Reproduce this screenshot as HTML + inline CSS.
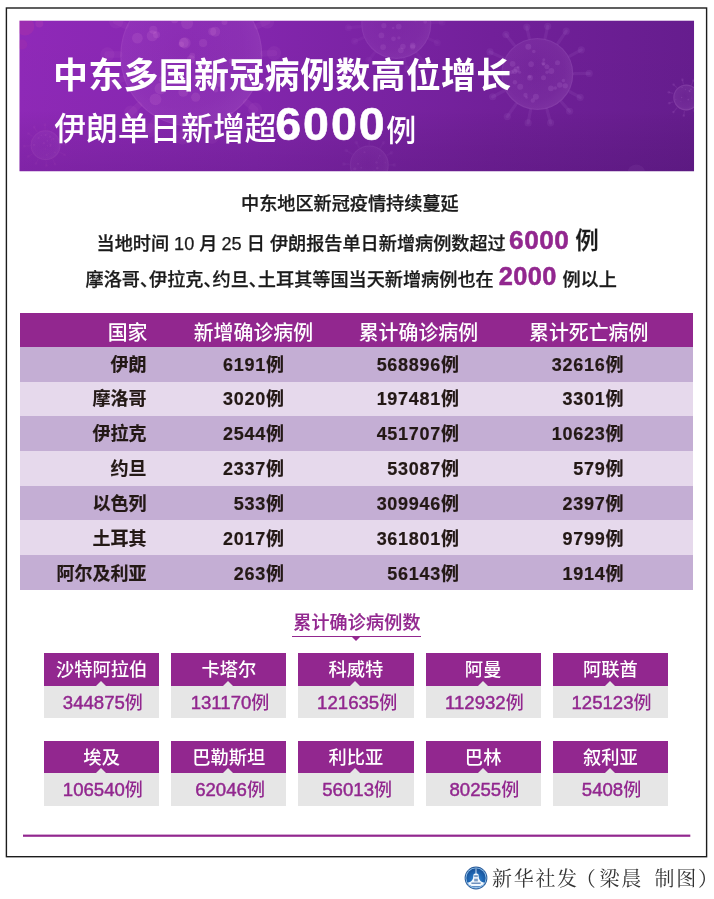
<!DOCTYPE html>
<html lang="zh-CN">
<head>
<meta charset="utf-8">
<title>中东多国新冠病例数高位增长</title>
<style>
html,body{margin:0;padding:0;background:#fff;}
body{width:714px;height:899px;position:relative;overflow:hidden;
  font-family:"Liberation Sans","Noto Sans CJK SC",sans-serif;color:#231815;}
.abs{position:absolute;}
#frame{left:0;top:0;}
#banner{left:19px;top:20px;width:677px;height:153px;overflow:hidden;}
#banner svg{position:absolute;left:0;top:0;}
.t1{left:53px;top:51px;font-size:35px;letter-spacing:0.27px;line-height:50px;font-weight:700;color:#fff;white-space:nowrap;}
.t2{left:54.2px;top:94px;line-height:60px;color:#fff;white-space:nowrap;font-size:31.75px;font-weight:500;}
.t2 b{font-size:46.5px;font-weight:700;letter-spacing:2px;margin-left:-1.2px;margin-right:1.6px;position:relative;top:0px;-webkit-text-stroke:0.6px #fff;}
.t2 i{font-style:normal;font-size:30px;font-weight:500;margin-left:-2px;position:relative;top:0.6px;}
.p{white-space:nowrap;font-size:18.15px;font-weight:500;line-height:30px;color:#1a1a1a;-webkit-text-stroke:0.25px #1a1a1a;}
.p b{color:#92278f;font-weight:700;font-size:26.2px;letter-spacing:0.5px;-webkit-text-stroke:0.5px #92278f;}
.hl{font-feature-settings:"halt";}
/* table */
.row{left:20px;width:672.5px;height:34.8px;}
.hd{background:#92278f;color:#fff;}
.dk{background:#c4aed4;}
.lt{background:#e6d9ec;}
.c{position:absolute;top:var(--o,0px);height:34.6px;line-height:34.6px;white-space:nowrap;text-align:right;font-size:18px;font-weight:700;-webkit-text-stroke:0.2px #231815;}
.hd .c{font-size:19.9px;font-weight:500;text-align:center;top:3px;-webkit-text-stroke:0;}
.c1{right:546px;}
.c2{right:407.9px;letter-spacing:0.7px;}
.c3{right:232.9px;letter-spacing:0.7px;}
.c4{right:68.4px;letter-spacing:0.7px;}

.h1{left:87.6px;width:40px;} .h2{left:173.4px;width:120px;} .h3{left:338.4px;width:120px;} .h4{left:508.7px;width:120px;}
.sub{-webkit-text-stroke:0.2px #92278f;left:293.2px;top:608px;font-size:18px;letter-spacing:0.2px;line-height:30px;font-weight:500;color:#92278f;white-space:nowrap;}
.subline{left:292px;top:636px;width:129px;height:1px;background:#92278f;}
.subtri{left:352px;top:636.5px;width:0;height:0;border-left:4.3px solid transparent;border-right:4.3px solid transparent;border-top:4px solid #92278f;}
.card{width:115.3px;height:65px;background:#e6e6e6;}
.cn{position:absolute;left:0;top:0;width:100%;height:32.7px;line-height:34.7px;background:#92278f;color:#fff;font-size:18.3px;font-weight:500;text-align:center;white-space:nowrap;}
.cn:after{content:"";position:absolute;left:50%;bottom:0;margin-left:-5.5px;border-left:5.5px solid transparent;border-right:5.5px solid transparent;border-bottom:5.5px solid #e6e6e6;}
.cv{position:absolute;left:1.2px;top:32.7px;width:100%;height:32.3px;line-height:34.7px;color:#92278f;font-size:18px;font-weight:500;text-align:center;white-space:nowrap;}
.n{font-size:18.6px;-webkit-text-stroke:0.45px #92278f;}
.botline{left:0;top:0;}
.logo{left:462.6px;top:865px;width:26px;height:26px;}
.foot{left:492px;top:864px;font-family:"Liberation Serif","Noto Serif CJK SC",serif;font-size:20px;line-height:30px;letter-spacing:1.7px;word-spacing:5px;color:#333;white-space:nowrap;}
</style>
</head>
<body>
<svg id="frame" class="abs" width="714" height="899" viewBox="0 0 714 899"><rect x="6.4" y="8" width="700.2" height="848.7" fill="none" stroke="#1c1c1c" stroke-width="1.4"/></svg>

<div id="banner" class="abs">
<svg width="677" height="153" viewBox="0 0 677 153">
<defs>
<linearGradient id="bg" x1="0" y1="0" x2="1" y2="0">
<stop offset="0" stop-color="#8f29b8"/>
<stop offset="0.35" stop-color="#8326ad"/>
<stop offset="0.7" stop-color="#72209a"/>
<stop offset="1" stop-color="#661d8e"/>
</linearGradient>
<linearGradient id="bgv" x1="0" y1="0" x2="0" y2="1">
<stop offset="0" stop-color="#000" stop-opacity="0"/>
<stop offset="0.6" stop-color="#000" stop-opacity="0.01"/>
<stop offset="1" stop-color="#1a0030" stop-opacity="0.13"/>
</linearGradient>
<radialGradient id="vb" cx="0.45" cy="0.45" r="0.6">
<stop offset="0" stop-color="#f0b8ff" stop-opacity="0.05"/>
<stop offset="0.7" stop-color="#f0b8ff" stop-opacity="0.09"/>
<stop offset="1" stop-color="#f6c8ff" stop-opacity="0.15"/>
</radialGradient>
<clipPath id="bc"><rect x="0" y="0" width="674.8" height="151"/></clipPath>
</defs>
<g transform="translate(0.3 0.45)" clip-path="url(#bc)">
<rect width="675" height="151" fill="url(#bg)"/>
<g transform="translate(172.0 35.0)">
<line x1="72.0" y1="-2.0" x2="82.8" y2="-2.3" stroke="#ffb0f0" stroke-opacity="0.05" stroke-width="6.4" stroke-linecap="round"/>
<circle cx="82.8" cy="-2.3" r="7.1" fill="#ffb0f0" fill-opacity="0.05"/>
<line x1="67.0" y1="26.3" x2="76.8" y2="30.1" stroke="#ffb0f0" stroke-opacity="0.05" stroke-width="6.4" stroke-linecap="round"/>
<circle cx="76.8" cy="30.1" r="7.1" fill="#ffb0f0" fill-opacity="0.05"/>
<line x1="54.9" y1="46.6" x2="63.8" y2="54.2" stroke="#ffb0f0" stroke-opacity="0.05" stroke-width="6.4" stroke-linecap="round"/>
<circle cx="63.8" cy="54.2" r="7.1" fill="#ffb0f0" fill-opacity="0.05"/>
<line x1="40.3" y1="59.7" x2="47.2" y2="69.9" stroke="#ffb0f0" stroke-opacity="0.05" stroke-width="6.4" stroke-linecap="round"/>
<circle cx="47.2" cy="69.9" r="7.1" fill="#ffb0f0" fill-opacity="0.05"/>
<line x1="17.7" y1="69.8" x2="20.7" y2="81.4" stroke="#ffb0f0" stroke-opacity="0.05" stroke-width="6.4" stroke-linecap="round"/>
<circle cx="20.7" cy="81.4" r="7.1" fill="#ffb0f0" fill-opacity="0.05"/>
<line x1="-7.6" y1="71.6" x2="-8.7" y2="82.1" stroke="#ffb0f0" stroke-opacity="0.05" stroke-width="6.4" stroke-linecap="round"/>
<circle cx="-8.7" cy="82.1" r="7.1" fill="#ffb0f0" fill-opacity="0.05"/>
<line x1="-35.2" y1="62.8" x2="-41.9" y2="74.7" stroke="#ffb0f0" stroke-opacity="0.05" stroke-width="6.4" stroke-linecap="round"/>
<circle cx="-41.9" cy="74.7" r="7.1" fill="#ffb0f0" fill-opacity="0.05"/>
<line x1="-52.3" y1="49.5" x2="-60.4" y2="57.2" stroke="#ffb0f0" stroke-opacity="0.05" stroke-width="6.4" stroke-linecap="round"/>
<circle cx="-60.4" cy="57.2" r="7.1" fill="#ffb0f0" fill-opacity="0.05"/>
<line x1="-68.1" y1="23.2" x2="-81.6" y2="27.8" stroke="#ffb0f0" stroke-opacity="0.05" stroke-width="6.4" stroke-linecap="round"/>
<circle cx="-81.6" cy="27.8" r="7.1" fill="#ffb0f0" fill-opacity="0.05"/>
<line x1="-72.0" y1="-0.9" x2="-83.9" y2="-1.0" stroke="#ffb0f0" stroke-opacity="0.05" stroke-width="6.4" stroke-linecap="round"/>
<circle cx="-83.9" cy="-1.0" r="7.1" fill="#ffb0f0" fill-opacity="0.05"/>
<line x1="-65.6" y1="-29.7" x2="-75.1" y2="-34.0" stroke="#ffb0f0" stroke-opacity="0.05" stroke-width="6.4" stroke-linecap="round"/>
<circle cx="-75.1" cy="-34.0" r="7.1" fill="#ffb0f0" fill-opacity="0.05"/>
<line x1="-52.4" y1="-49.4" x2="-60.7" y2="-57.2" stroke="#ffb0f0" stroke-opacity="0.05" stroke-width="6.4" stroke-linecap="round"/>
<circle cx="-60.7" cy="-57.2" r="7.1" fill="#ffb0f0" fill-opacity="0.05"/>
<line x1="-39.5" y1="-60.2" x2="-45.4" y2="-69.1" stroke="#ffb0f0" stroke-opacity="0.05" stroke-width="6.4" stroke-linecap="round"/>
<circle cx="-45.4" cy="-69.1" r="7.1" fill="#ffb0f0" fill-opacity="0.05"/>
<line x1="-14.7" y1="-70.5" x2="-17.4" y2="-83.8" stroke="#ffb0f0" stroke-opacity="0.05" stroke-width="6.4" stroke-linecap="round"/>
<circle cx="-17.4" cy="-83.8" r="7.1" fill="#ffb0f0" fill-opacity="0.05"/>
<line x1="8.9" y1="-71.5" x2="10.4" y2="-84.0" stroke="#ffb0f0" stroke-opacity="0.05" stroke-width="6.4" stroke-linecap="round"/>
<circle cx="10.4" cy="-84.0" r="7.1" fill="#ffb0f0" fill-opacity="0.05"/>
<line x1="37.4" y1="-61.5" x2="43.5" y2="-71.6" stroke="#ffb0f0" stroke-opacity="0.05" stroke-width="6.4" stroke-linecap="round"/>
<circle cx="43.5" cy="-71.6" r="7.1" fill="#ffb0f0" fill-opacity="0.05"/>
<line x1="55.5" y1="-45.9" x2="63.6" y2="-52.5" stroke="#ffb0f0" stroke-opacity="0.05" stroke-width="6.4" stroke-linecap="round"/>
<circle cx="63.6" cy="-52.5" r="7.1" fill="#ffb0f0" fill-opacity="0.05"/>
<line x1="65.8" y1="-29.3" x2="75.9" y2="-33.8" stroke="#ffb0f0" stroke-opacity="0.05" stroke-width="6.4" stroke-linecap="round"/>
<circle cx="75.9" cy="-33.8" r="7.1" fill="#ffb0f0" fill-opacity="0.05"/>
<circle r="71.0" fill="url(#vb)" fill-opacity="0.75"/>
<circle r="70.4" fill="none" stroke="#ffb0f0" stroke-opacity="0.068" stroke-width="1.2"/>
<circle cx="-16.7" cy="-35.7" r="3.6" fill="#ffb0f0" fill-opacity="0.1"/>
<circle cx="-34.8" cy="-20.8" r="3.5" fill="#ffb0f0" fill-opacity="0.1"/>
<circle cx="13.9" cy="-48.4" r="3.4" fill="#ffb0f0" fill-opacity="0.1"/>
<circle cx="-39.0" cy="-19.7" r="5.6" fill="#ffb0f0" fill-opacity="0.1"/>
<circle cx="-4.2" cy="-32.1" r="6.0" fill="#ffb0f0" fill-opacity="0.1"/>
<circle cx="28.7" cy="26.3" r="5.2" fill="#ffb0f0" fill-opacity="0.1"/>
<circle cx="24.3" cy="34.4" r="2.6" fill="#ffb0f0" fill-opacity="0.1"/>
<circle cx="-25.9" cy="-45.9" r="4.5" fill="#ffb0f0" fill-opacity="0.1"/>
<circle cx="23.9" cy="-23.8" r="5.0" fill="#ffb0f0" fill-opacity="0.1"/>
<circle cx="-38.0" cy="-25.6" r="4.1" fill="#ffb0f0" fill-opacity="0.1"/>
<circle cx="31.4" cy="-49.4" r="4.2" fill="#ffb0f0" fill-opacity="0.1"/>
<circle cx="-7.6" cy="-12.7" r="5.0" fill="#ffb0f0" fill-opacity="0.1"/>
<circle cx="-36.2" cy="-47.9" r="5.4" fill="#ffb0f0" fill-opacity="0.1"/>
<circle cx="-8.1" cy="36.5" r="4.9" fill="#ffb0f0" fill-opacity="0.1"/>
<circle cx="40.5" cy="5.8" r="3.1" fill="#ffb0f0" fill-opacity="0.1"/>
<circle cx="10.8" cy="9.8" r="5.2" fill="#ffb0f0" fill-opacity="0.1"/>
<circle cx="20.6" cy="21.8" r="3.9" fill="#ffb0f0" fill-opacity="0.1"/>
<circle cx="11.8" cy="-12.4" r="4.1" fill="#ffb0f0" fill-opacity="0.1"/>
<circle cx="-53.9" cy="-17.3" r="5.4" fill="#ffb0f0" fill-opacity="0.1"/>
<circle cx="20.9" cy="-24.0" r="4.0" fill="#ffb0f0" fill-opacity="0.1"/>
<circle cx="-35.8" cy="43.9" r="5.9" fill="#ffb0f0" fill-opacity="0.1"/>
<circle cx="14.7" cy="20.5" r="3.3" fill="#ffb0f0" fill-opacity="0.1"/>
<circle cx="4.4" cy="41.7" r="4.6" fill="#ffb0f0" fill-opacity="0.1"/>
<circle cx="-0.3" cy="3.8" r="4.0" fill="#ffb0f0" fill-opacity="0.1"/>
<circle cx="-30.9" cy="33.2" r="5.9" fill="#ffb0f0" fill-opacity="0.1"/>
<circle cx="-15.8" cy="-40.3" r="4.7" fill="#ffb0f0" fill-opacity="0.1"/>
<circle cx="-6.3" cy="-12.5" r="5.7" fill="#ffb0f0" fill-opacity="0.1"/>
<circle cx="10.5" cy="-55.3" r="5.3" fill="#ffb0f0" fill-opacity="0.1"/>
<circle cx="-29.7" cy="23.8" r="2.9" fill="#ffb0f0" fill-opacity="0.1"/>
<circle cx="-10.0" cy="-11.2" r="2.7" fill="#ffb0f0" fill-opacity="0.1"/>
<circle cx="6.2" cy="23.5" r="3.7" fill="#ffb0f0" fill-opacity="0.1"/>
<circle cx="0.9" cy="0.3" r="3.0" fill="#ffb0f0" fill-opacity="0.1"/>
<circle cx="29.2" cy="21.6" r="2.6" fill="#ffb0f0" fill-opacity="0.1"/>
<circle cx="33.2" cy="-33.5" r="3.0" fill="#ffb0f0" fill-opacity="0.1"/>
</g>
<g transform="translate(377.0 3.5)">
<line x1="36.0" y1="-1.4" x2="45.8" y2="-1.8" stroke="#f0b8ff" stroke-opacity="0.04" stroke-width="3.1" stroke-linecap="round"/>
<circle cx="45.8" cy="-1.8" r="3.5" fill="#f0b8ff" fill-opacity="0.04"/>
<line x1="32.8" y1="14.9" x2="41.0" y2="18.7" stroke="#f0b8ff" stroke-opacity="0.04" stroke-width="3.1" stroke-linecap="round"/>
<circle cx="41.0" cy="18.7" r="3.5" fill="#f0b8ff" fill-opacity="0.04"/>
<line x1="20.8" y1="29.4" x2="27.9" y2="39.3" stroke="#f0b8ff" stroke-opacity="0.04" stroke-width="3.1" stroke-linecap="round"/>
<circle cx="27.9" cy="39.3" r="3.5" fill="#f0b8ff" fill-opacity="0.04"/>
<line x1="8.2" y1="35.1" x2="10.6" y2="45.1" stroke="#f0b8ff" stroke-opacity="0.04" stroke-width="3.1" stroke-linecap="round"/>
<circle cx="10.6" cy="45.1" r="3.5" fill="#f0b8ff" fill-opacity="0.04"/>
<line x1="-5.7" y1="35.6" x2="-7.1" y2="44.4" stroke="#f0b8ff" stroke-opacity="0.04" stroke-width="3.1" stroke-linecap="round"/>
<circle cx="-7.1" cy="44.4" r="3.5" fill="#f0b8ff" fill-opacity="0.04"/>
<line x1="-21.7" y1="28.7" x2="-27.5" y2="36.3" stroke="#f0b8ff" stroke-opacity="0.04" stroke-width="3.1" stroke-linecap="round"/>
<circle cx="-27.5" cy="36.3" r="3.5" fill="#f0b8ff" fill-opacity="0.04"/>
<line x1="-33.2" y1="13.9" x2="-41.7" y2="17.4" stroke="#f0b8ff" stroke-opacity="0.04" stroke-width="3.1" stroke-linecap="round"/>
<circle cx="-41.7" cy="17.4" r="3.5" fill="#f0b8ff" fill-opacity="0.04"/>
<line x1="-35.9" y1="2.7" x2="-47.9" y2="3.7" stroke="#f0b8ff" stroke-opacity="0.04" stroke-width="3.1" stroke-linecap="round"/>
<circle cx="-47.9" cy="3.7" r="3.5" fill="#f0b8ff" fill-opacity="0.04"/>
<line x1="-32.4" y1="-15.8" x2="-40.6" y2="-19.8" stroke="#f0b8ff" stroke-opacity="0.04" stroke-width="3.1" stroke-linecap="round"/>
<circle cx="-40.6" cy="-19.8" r="3.5" fill="#f0b8ff" fill-opacity="0.04"/>
<line x1="-22.3" y1="-28.3" x2="-27.6" y2="-35.1" stroke="#f0b8ff" stroke-opacity="0.04" stroke-width="3.1" stroke-linecap="round"/>
<circle cx="-27.6" cy="-35.1" r="3.5" fill="#f0b8ff" fill-opacity="0.04"/>
<line x1="-7.9" y1="-35.1" x2="-10.5" y2="-47.0" stroke="#f0b8ff" stroke-opacity="0.04" stroke-width="3.1" stroke-linecap="round"/>
<circle cx="-10.5" cy="-47.0" r="3.5" fill="#f0b8ff" fill-opacity="0.04"/>
<line x1="10.0" y1="-34.6" x2="13.1" y2="-45.2" stroke="#f0b8ff" stroke-opacity="0.04" stroke-width="3.1" stroke-linecap="round"/>
<circle cx="13.1" cy="-45.2" r="3.5" fill="#f0b8ff" fill-opacity="0.04"/>
<line x1="21.4" y1="-29.0" x2="27.2" y2="-37.0" stroke="#f0b8ff" stroke-opacity="0.04" stroke-width="3.1" stroke-linecap="round"/>
<circle cx="27.2" cy="-37.0" r="3.5" fill="#f0b8ff" fill-opacity="0.04"/>
<line x1="31.6" y1="-17.3" x2="41.5" y2="-22.8" stroke="#f0b8ff" stroke-opacity="0.04" stroke-width="3.1" stroke-linecap="round"/>
<circle cx="41.5" cy="-22.8" r="3.5" fill="#f0b8ff" fill-opacity="0.04"/>
<circle r="35.0" fill="url(#vb)" fill-opacity="0.65"/>
<circle r="34.4" fill="none" stroke="#f0b8ff" stroke-opacity="0.059" stroke-width="1.2"/>
<circle cx="-25.7" cy="-5.3" r="1.8" fill="#f0b8ff" fill-opacity="0.09"/>
<circle cx="4.5" cy="26.4" r="2.9" fill="#f0b8ff" fill-opacity="0.09"/>
<circle cx="16.0" cy="-21.3" r="2.7" fill="#f0b8ff" fill-opacity="0.09"/>
<circle cx="-0.9" cy="-14.1" r="2.1" fill="#f0b8ff" fill-opacity="0.09"/>
<circle cx="-3.1" cy="4.0" r="1.3" fill="#f0b8ff" fill-opacity="0.09"/>
<circle cx="-2.8" cy="14.9" r="2.4" fill="#f0b8ff" fill-opacity="0.09"/>
<circle cx="19.1" cy="-5.4" r="2.9" fill="#f0b8ff" fill-opacity="0.09"/>
<circle cx="28.9" cy="-2.2" r="1.9" fill="#f0b8ff" fill-opacity="0.09"/>
<circle cx="2.6" cy="13.9" r="1.6" fill="#f0b8ff" fill-opacity="0.09"/>
<circle cx="6.6" cy="22.5" r="2.8" fill="#f0b8ff" fill-opacity="0.09"/>
<circle cx="11.1" cy="-17.3" r="2.4" fill="#f0b8ff" fill-opacity="0.09"/>
<circle cx="2.7" cy="-8.2" r="2.4" fill="#f0b8ff" fill-opacity="0.09"/>
<circle cx="22.2" cy="-14.1" r="2.5" fill="#f0b8ff" fill-opacity="0.09"/>
<circle cx="-12.4" cy="1.7" r="2.6" fill="#f0b8ff" fill-opacity="0.09"/>
<circle cx="-13.2" cy="23.1" r="2.9" fill="#f0b8ff" fill-opacity="0.09"/>
<circle cx="-14.9" cy="11.5" r="2.9" fill="#f0b8ff" fill-opacity="0.09"/>
<circle cx="-1.9" cy="-12.1" r="1.4" fill="#f0b8ff" fill-opacity="0.09"/>
<circle cx="16.4" cy="23.0" r="2.6" fill="#f0b8ff" fill-opacity="0.09"/>
<circle cx="16.4" cy="21.5" r="2.9" fill="#f0b8ff" fill-opacity="0.09"/>
<circle cx="-9.7" cy="-14.7" r="2.2" fill="#f0b8ff" fill-opacity="0.09"/>
<circle cx="2.4" cy="2.6" r="2.9" fill="#f0b8ff" fill-opacity="0.09"/>
<circle cx="-12.7" cy="-17.4" r="2.9" fill="#f0b8ff" fill-opacity="0.09"/>
</g>
<g transform="translate(518.0 53.5)">
<line x1="37.0" y1="-0.4" x2="51.9" y2="-0.5" stroke="#e9b4ff" stroke-opacity="0.07" stroke-width="3.2" stroke-linecap="round"/>
<circle cx="51.9" cy="-0.5" r="3.6" fill="#e9b4ff" fill-opacity="0.07"/>
<line x1="32.5" y1="17.8" x2="42.9" y2="23.5" stroke="#e9b4ff" stroke-opacity="0.07" stroke-width="3.2" stroke-linecap="round"/>
<circle cx="42.9" cy="23.5" r="3.6" fill="#e9b4ff" fill-opacity="0.07"/>
<line x1="24.2" y1="28.0" x2="32.3" y2="37.3" stroke="#e9b4ff" stroke-opacity="0.07" stroke-width="3.2" stroke-linecap="round"/>
<circle cx="32.3" cy="37.3" r="3.6" fill="#e9b4ff" fill-opacity="0.07"/>
<line x1="9.7" y1="35.7" x2="13.3" y2="48.9" stroke="#e9b4ff" stroke-opacity="0.07" stroke-width="3.2" stroke-linecap="round"/>
<circle cx="13.3" cy="48.9" r="3.6" fill="#e9b4ff" fill-opacity="0.07"/>
<line x1="-6.8" y1="36.4" x2="-9.2" y2="49.0" stroke="#e9b4ff" stroke-opacity="0.07" stroke-width="3.2" stroke-linecap="round"/>
<circle cx="-9.2" cy="49.0" r="3.6" fill="#e9b4ff" fill-opacity="0.07"/>
<line x1="-21.3" y1="30.2" x2="-30.0" y2="42.6" stroke="#e9b4ff" stroke-opacity="0.07" stroke-width="3.2" stroke-linecap="round"/>
<circle cx="-30.0" cy="42.6" r="3.6" fill="#e9b4ff" fill-opacity="0.07"/>
<line x1="-33.0" y1="16.8" x2="-44.6" y2="22.8" stroke="#e9b4ff" stroke-opacity="0.07" stroke-width="3.2" stroke-linecap="round"/>
<circle cx="-44.6" cy="22.8" r="3.6" fill="#e9b4ff" fill-opacity="0.07"/>
<line x1="-37.0" y1="-0.5" x2="-52.1" y2="-0.7" stroke="#e9b4ff" stroke-opacity="0.07" stroke-width="3.2" stroke-linecap="round"/>
<circle cx="-52.1" cy="-0.7" r="3.6" fill="#e9b4ff" fill-opacity="0.07"/>
<line x1="-33.5" y1="-15.6" x2="-47.3" y2="-22.0" stroke="#e9b4ff" stroke-opacity="0.07" stroke-width="3.2" stroke-linecap="round"/>
<circle cx="-47.3" cy="-22.0" r="3.6" fill="#e9b4ff" fill-opacity="0.07"/>
<line x1="-23.1" y1="-28.9" x2="-31.4" y2="-39.4" stroke="#e9b4ff" stroke-opacity="0.07" stroke-width="3.2" stroke-linecap="round"/>
<circle cx="-31.4" cy="-39.4" r="3.6" fill="#e9b4ff" fill-opacity="0.07"/>
<line x1="-8.1" y1="-36.1" x2="-10.5" y2="-46.9" stroke="#e9b4ff" stroke-opacity="0.07" stroke-width="3.2" stroke-linecap="round"/>
<circle cx="-10.5" cy="-46.9" r="3.6" fill="#e9b4ff" fill-opacity="0.07"/>
<line x1="7.9" y1="-36.1" x2="10.4" y2="-47.7" stroke="#e9b4ff" stroke-opacity="0.07" stroke-width="3.2" stroke-linecap="round"/>
<circle cx="10.4" cy="-47.7" r="3.6" fill="#e9b4ff" fill-opacity="0.07"/>
<line x1="20.7" y1="-30.7" x2="28.9" y2="-42.8" stroke="#e9b4ff" stroke-opacity="0.07" stroke-width="3.2" stroke-linecap="round"/>
<circle cx="28.9" cy="-42.8" r="3.6" fill="#e9b4ff" fill-opacity="0.07"/>
<line x1="32.4" y1="-17.8" x2="44.0" y2="-24.1" stroke="#e9b4ff" stroke-opacity="0.07" stroke-width="3.2" stroke-linecap="round"/>
<circle cx="44.0" cy="-24.1" r="3.6" fill="#e9b4ff" fill-opacity="0.07"/>
<circle r="36.0" fill="url(#vb)" fill-opacity="0.80"/>
<circle r="35.4" fill="none" stroke="#e9b4ff" stroke-opacity="0.072" stroke-width="1.2"/>
<circle cx="-3.5" cy="-22.5" r="1.8" fill="#e9b4ff" fill-opacity="0.11"/>
<circle cx="-22.6" cy="-2.6" r="2.7" fill="#e9b4ff" fill-opacity="0.11"/>
<circle cx="18.0" cy="14.1" r="1.7" fill="#e9b4ff" fill-opacity="0.11"/>
<circle cx="-4.5" cy="26.5" r="2.2" fill="#e9b4ff" fill-opacity="0.11"/>
<circle cx="-24.7" cy="-10.1" r="2.9" fill="#e9b4ff" fill-opacity="0.11"/>
<circle cx="-22.4" cy="8.3" r="2.2" fill="#e9b4ff" fill-opacity="0.11"/>
<circle cx="-25.4" cy="-1.9" r="2.1" fill="#e9b4ff" fill-opacity="0.11"/>
<circle cx="-20.7" cy="-4.4" r="3.0" fill="#e9b4ff" fill-opacity="0.11"/>
<circle cx="-9.0" cy="-27.2" r="3.0" fill="#e9b4ff" fill-opacity="0.11"/>
<circle cx="-1.4" cy="22.8" r="3.0" fill="#e9b4ff" fill-opacity="0.11"/>
<circle cx="6.1" cy="-9.6" r="1.5" fill="#e9b4ff" fill-opacity="0.11"/>
<circle cx="-7.7" cy="2.9" r="1.7" fill="#e9b4ff" fill-opacity="0.11"/>
<circle cx="22.4" cy="11.1" r="2.7" fill="#e9b4ff" fill-opacity="0.11"/>
<circle cx="9.6" cy="-7.2" r="2.5" fill="#e9b4ff" fill-opacity="0.11"/>
<circle cx="-6.2" cy="-9.8" r="2.8" fill="#e9b4ff" fill-opacity="0.11"/>
<circle cx="14.0" cy="-2.9" r="3.0" fill="#e9b4ff" fill-opacity="0.11"/>
<circle cx="-17.1" cy="12.7" r="3.0" fill="#e9b4ff" fill-opacity="0.11"/>
<circle cx="6.1" cy="-10.7" r="2.0" fill="#e9b4ff" fill-opacity="0.11"/>
<circle cx="-17.7" cy="-1.7" r="1.6" fill="#e9b4ff" fill-opacity="0.11"/>
<circle cx="-10.8" cy="23.6" r="1.3" fill="#e9b4ff" fill-opacity="0.11"/>
<circle cx="-19.1" cy="-6.8" r="1.3" fill="#e9b4ff" fill-opacity="0.11"/>
<circle cx="-11.8" cy="21.0" r="2.2" fill="#e9b4ff" fill-opacity="0.11"/>
<circle cx="27.9" cy="11.9" r="2.7" fill="#e9b4ff" fill-opacity="0.11"/>
<circle cx="9.7" cy="-1.7" r="1.7" fill="#e9b4ff" fill-opacity="0.11"/>
<circle cx="26.1" cy="6.6" r="1.7" fill="#e9b4ff" fill-opacity="0.11"/>
<circle cx="13.6" cy="14.4" r="2.9" fill="#e9b4ff" fill-opacity="0.11"/>
<circle cx="6.5" cy="-14.1" r="1.5" fill="#e9b4ff" fill-opacity="0.11"/>
<circle cx="20.2" cy="-11.2" r="2.5" fill="#e9b4ff" fill-opacity="0.11"/>
<circle cx="6.2" cy="3.9" r="2.5" fill="#e9b4ff" fill-opacity="0.11"/>
<circle cx="-7.3" cy="3.7" r="2.9" fill="#e9b4ff" fill-opacity="0.11"/>
</g>
<g transform="translate(667.0 77.0)">
<line x1="14.0" y1="0.3" x2="19.2" y2="0.4" stroke="#f0b8ff" stroke-opacity="0.08" stroke-width="1.2" stroke-linecap="round"/>
<circle cx="19.2" cy="0.4" r="1.4" fill="#f0b8ff" fill-opacity="0.08"/>
<line x1="12.3" y1="6.8" x2="16.9" y2="9.4" stroke="#f0b8ff" stroke-opacity="0.08" stroke-width="1.2" stroke-linecap="round"/>
<circle cx="16.9" cy="9.4" r="1.4" fill="#f0b8ff" fill-opacity="0.08"/>
<line x1="6.7" y1="12.3" x2="9.2" y2="17.0" stroke="#f0b8ff" stroke-opacity="0.08" stroke-width="1.2" stroke-linecap="round"/>
<circle cx="9.2" cy="17.0" r="1.4" fill="#f0b8ff" fill-opacity="0.08"/>
<line x1="-1.9" y1="13.9" x2="-2.5" y2="18.2" stroke="#f0b8ff" stroke-opacity="0.08" stroke-width="1.2" stroke-linecap="round"/>
<circle cx="-2.5" cy="18.2" r="1.4" fill="#f0b8ff" fill-opacity="0.08"/>
<line x1="-9.3" y1="10.5" x2="-12.9" y2="14.6" stroke="#f0b8ff" stroke-opacity="0.08" stroke-width="1.2" stroke-linecap="round"/>
<circle cx="-12.9" cy="14.6" r="1.4" fill="#f0b8ff" fill-opacity="0.08"/>
<line x1="-13.3" y1="4.4" x2="-17.1" y2="5.7" stroke="#f0b8ff" stroke-opacity="0.08" stroke-width="1.2" stroke-linecap="round"/>
<circle cx="-17.1" cy="5.7" r="1.4" fill="#f0b8ff" fill-opacity="0.08"/>
<line x1="-13.4" y1="-4.0" x2="-17.5" y2="-5.2" stroke="#f0b8ff" stroke-opacity="0.08" stroke-width="1.2" stroke-linecap="round"/>
<circle cx="-17.5" cy="-5.2" r="1.4" fill="#f0b8ff" fill-opacity="0.08"/>
<line x1="-9.8" y1="-10.0" x2="-12.7" y2="-12.9" stroke="#f0b8ff" stroke-opacity="0.08" stroke-width="1.2" stroke-linecap="round"/>
<circle cx="-12.7" cy="-12.9" r="1.4" fill="#f0b8ff" fill-opacity="0.08"/>
<line x1="-3.0" y1="-13.7" x2="-3.9" y2="-17.7" stroke="#f0b8ff" stroke-opacity="0.08" stroke-width="1.2" stroke-linecap="round"/>
<circle cx="-3.9" cy="-17.7" r="1.4" fill="#f0b8ff" fill-opacity="0.08"/>
<line x1="5.4" y1="-12.9" x2="7.1" y2="-16.9" stroke="#f0b8ff" stroke-opacity="0.08" stroke-width="1.2" stroke-linecap="round"/>
<circle cx="7.1" cy="-16.9" r="1.4" fill="#f0b8ff" fill-opacity="0.08"/>
<line x1="12.1" y1="-7.1" x2="15.8" y2="-9.3" stroke="#f0b8ff" stroke-opacity="0.08" stroke-width="1.2" stroke-linecap="round"/>
<circle cx="15.8" cy="-9.3" r="1.4" fill="#f0b8ff" fill-opacity="0.08"/>
<circle r="13.0" fill="url(#vb)" fill-opacity="1.00"/>
<circle r="12.4" fill="none" stroke="#f0b8ff" stroke-opacity="0.090" stroke-width="1.2"/>
<circle cx="-4.7" cy="-0.0" r="0.7" fill="#f0b8ff" fill-opacity="0.12"/>
<circle cx="5.5" cy="0.6" r="0.5" fill="#f0b8ff" fill-opacity="0.12"/>
<circle cx="-0.9" cy="-8.1" r="0.6" fill="#f0b8ff" fill-opacity="0.12"/>
<circle cx="-10.5" cy="1.7" r="0.5" fill="#f0b8ff" fill-opacity="0.12"/>
<circle cx="3.0" cy="-6.6" r="0.8" fill="#f0b8ff" fill-opacity="0.12"/>
<circle cx="3.5" cy="-6.0" r="0.8" fill="#f0b8ff" fill-opacity="0.12"/>
<circle cx="-4.2" cy="-10.1" r="0.7" fill="#f0b8ff" fill-opacity="0.12"/>
<circle cx="4.6" cy="-8.1" r="0.9" fill="#f0b8ff" fill-opacity="0.12"/>
<circle cx="-5.4" cy="3.7" r="0.5" fill="#f0b8ff" fill-opacity="0.12"/>
<circle cx="2.0" cy="2.1" r="0.9" fill="#f0b8ff" fill-opacity="0.12"/>
</g>
<g transform="translate(26.3 124.8)">
<line x1="16.0" y1="-0.6" x2="20.1" y2="-0.8" stroke="#ff9be0" stroke-opacity="0.04" stroke-width="1.3" stroke-linecap="round"/>
<circle cx="20.1" cy="-0.8" r="1.5" fill="#ff9be0" fill-opacity="0.04"/>
<line x1="14.4" y1="7.1" x2="19.1" y2="9.4" stroke="#ff9be0" stroke-opacity="0.04" stroke-width="1.3" stroke-linecap="round"/>
<circle cx="19.1" cy="9.4" r="1.5" fill="#ff9be0" fill-opacity="0.04"/>
<line x1="7.2" y1="14.3" x2="9.4" y2="18.8" stroke="#ff9be0" stroke-opacity="0.04" stroke-width="1.3" stroke-linecap="round"/>
<circle cx="9.4" cy="18.8" r="1.5" fill="#ff9be0" fill-opacity="0.04"/>
<line x1="0.6" y1="16.0" x2="0.7" y2="20.2" stroke="#ff9be0" stroke-opacity="0.04" stroke-width="1.3" stroke-linecap="round"/>
<circle cx="0.7" cy="20.2" r="1.5" fill="#ff9be0" fill-opacity="0.04"/>
<line x1="-7.5" y1="14.1" x2="-9.7" y2="18.2" stroke="#ff9be0" stroke-opacity="0.04" stroke-width="1.3" stroke-linecap="round"/>
<circle cx="-9.7" cy="18.2" r="1.5" fill="#ff9be0" fill-opacity="0.04"/>
<line x1="-13.4" y1="8.7" x2="-17.3" y2="11.3" stroke="#ff9be0" stroke-opacity="0.04" stroke-width="1.3" stroke-linecap="round"/>
<circle cx="-17.3" cy="11.3" r="1.5" fill="#ff9be0" fill-opacity="0.04"/>
<line x1="-16.0" y1="0.6" x2="-21.5" y2="0.8" stroke="#ff9be0" stroke-opacity="0.04" stroke-width="1.3" stroke-linecap="round"/>
<circle cx="-21.5" cy="0.8" r="1.5" fill="#ff9be0" fill-opacity="0.04"/>
<line x1="-13.2" y1="-9.0" x2="-17.2" y2="-11.7" stroke="#ff9be0" stroke-opacity="0.04" stroke-width="1.3" stroke-linecap="round"/>
<circle cx="-17.2" cy="-11.7" r="1.5" fill="#ff9be0" fill-opacity="0.04"/>
<line x1="-8.6" y1="-13.5" x2="-11.5" y2="-18.2" stroke="#ff9be0" stroke-opacity="0.04" stroke-width="1.3" stroke-linecap="round"/>
<circle cx="-11.5" cy="-18.2" r="1.5" fill="#ff9be0" fill-opacity="0.04"/>
<line x1="-0.5" y1="-16.0" x2="-0.6" y2="-20.4" stroke="#ff9be0" stroke-opacity="0.04" stroke-width="1.3" stroke-linecap="round"/>
<circle cx="-0.6" cy="-20.4" r="1.5" fill="#ff9be0" fill-opacity="0.04"/>
<line x1="6.9" y1="-14.5" x2="8.8" y2="-18.5" stroke="#ff9be0" stroke-opacity="0.04" stroke-width="1.3" stroke-linecap="round"/>
<circle cx="8.8" cy="-18.5" r="1.5" fill="#ff9be0" fill-opacity="0.04"/>
<line x1="13.8" y1="-8.1" x2="17.9" y2="-10.4" stroke="#ff9be0" stroke-opacity="0.04" stroke-width="1.3" stroke-linecap="round"/>
<circle cx="17.9" cy="-10.4" r="1.5" fill="#ff9be0" fill-opacity="0.04"/>
<circle r="15.0" fill="url(#vb)" fill-opacity="0.55"/>
<circle r="14.4" fill="none" stroke="#ff9be0" stroke-opacity="0.050" stroke-width="1.2"/>
<circle cx="2.7" cy="8.6" r="0.5" fill="#ff9be0" fill-opacity="0.07"/>
<circle cx="-0.3" cy="3.8" r="0.8" fill="#ff9be0" fill-opacity="0.07"/>
<circle cx="1.8" cy="0.5" r="0.8" fill="#ff9be0" fill-opacity="0.07"/>
<circle cx="1.0" cy="9.7" r="0.9" fill="#ff9be0" fill-opacity="0.07"/>
<circle cx="0.0" cy="-10.3" r="1.1" fill="#ff9be0" fill-opacity="0.07"/>
<circle cx="5.8" cy="-5.5" r="0.8" fill="#ff9be0" fill-opacity="0.07"/>
<circle cx="4.9" cy="-0.5" r="1.1" fill="#ff9be0" fill-opacity="0.07"/>
<circle cx="-1.7" cy="-2.1" r="1.2" fill="#ff9be0" fill-opacity="0.07"/>
<circle cx="7.8" cy="-6.3" r="1.1" fill="#ff9be0" fill-opacity="0.07"/>
<circle cx="1.8" cy="-4.4" r="0.9" fill="#ff9be0" fill-opacity="0.07"/>
<circle cx="-11.6" cy="-0.3" r="1.1" fill="#ff9be0" fill-opacity="0.07"/>
<circle cx="4.5" cy="-8.6" r="1.2" fill="#ff9be0" fill-opacity="0.07"/>
<circle cx="-4.3" cy="-9.7" r="0.7" fill="#ff9be0" fill-opacity="0.07"/>
<circle cx="4.6" cy="0.9" r="0.8" fill="#ff9be0" fill-opacity="0.07"/>
<circle cx="9.2" cy="7.1" r="0.9" fill="#ff9be0" fill-opacity="0.07"/>
<circle cx="-7.0" cy="-7.2" r="1.0" fill="#ff9be0" fill-opacity="0.07"/>
</g>
<g transform="translate(350.0 144.5)">
<line x1="20.5" y1="-0.0" x2="25.1" y2="-0.0" stroke="#f0b8ff" stroke-opacity="0.04" stroke-width="1.8" stroke-linecap="round"/>
<circle cx="25.1" cy="-0.0" r="2.0" fill="#f0b8ff" fill-opacity="0.04"/>
<line x1="17.2" y1="11.1" x2="22.4" y2="14.4" stroke="#f0b8ff" stroke-opacity="0.04" stroke-width="1.8" stroke-linecap="round"/>
<circle cx="22.4" cy="14.4" r="2.0" fill="#f0b8ff" fill-opacity="0.04"/>
<line x1="10.2" y1="17.8" x2="13.1" y2="22.7" stroke="#f0b8ff" stroke-opacity="0.04" stroke-width="1.8" stroke-linecap="round"/>
<circle cx="13.1" cy="22.7" r="2.0" fill="#f0b8ff" fill-opacity="0.04"/>
<line x1="-0.5" y1="20.5" x2="-0.6" y2="25.2" stroke="#f0b8ff" stroke-opacity="0.04" stroke-width="1.8" stroke-linecap="round"/>
<circle cx="-0.6" cy="25.2" r="2.0" fill="#f0b8ff" fill-opacity="0.04"/>
<line x1="-10.9" y1="17.4" x2="-13.6" y2="21.7" stroke="#f0b8ff" stroke-opacity="0.04" stroke-width="1.8" stroke-linecap="round"/>
<circle cx="-13.6" cy="21.7" r="2.0" fill="#f0b8ff" fill-opacity="0.04"/>
<line x1="-17.0" y1="11.4" x2="-21.3" y2="14.3" stroke="#f0b8ff" stroke-opacity="0.04" stroke-width="1.8" stroke-linecap="round"/>
<circle cx="-21.3" cy="14.3" r="2.0" fill="#f0b8ff" fill-opacity="0.04"/>
<line x1="-20.5" y1="-0.8" x2="-25.5" y2="-0.9" stroke="#f0b8ff" stroke-opacity="0.04" stroke-width="1.8" stroke-linecap="round"/>
<circle cx="-25.5" cy="-0.9" r="2.0" fill="#f0b8ff" fill-opacity="0.04"/>
<line x1="-17.3" y1="-10.9" x2="-23.0" y2="-14.5" stroke="#f0b8ff" stroke-opacity="0.04" stroke-width="1.8" stroke-linecap="round"/>
<circle cx="-23.0" cy="-14.5" r="2.0" fill="#f0b8ff" fill-opacity="0.04"/>
<line x1="-10.3" y1="-17.7" x2="-13.0" y2="-22.4" stroke="#f0b8ff" stroke-opacity="0.04" stroke-width="1.8" stroke-linecap="round"/>
<circle cx="-13.0" cy="-22.4" r="2.0" fill="#f0b8ff" fill-opacity="0.04"/>
<line x1="-0.1" y1="-20.5" x2="-0.1" y2="-26.5" stroke="#f0b8ff" stroke-opacity="0.04" stroke-width="1.8" stroke-linecap="round"/>
<circle cx="-0.1" cy="-26.5" r="2.0" fill="#f0b8ff" fill-opacity="0.04"/>
<line x1="11.0" y1="-17.3" x2="14.2" y2="-22.3" stroke="#f0b8ff" stroke-opacity="0.04" stroke-width="1.8" stroke-linecap="round"/>
<circle cx="14.2" cy="-22.3" r="2.0" fill="#f0b8ff" fill-opacity="0.04"/>
<line x1="18.0" y1="-9.8" x2="22.2" y2="-12.1" stroke="#f0b8ff" stroke-opacity="0.04" stroke-width="1.8" stroke-linecap="round"/>
<circle cx="22.2" cy="-12.1" r="2.0" fill="#f0b8ff" fill-opacity="0.04"/>
<circle r="19.5" fill="url(#vb)" fill-opacity="0.60"/>
<circle r="18.9" fill="none" stroke="#f0b8ff" stroke-opacity="0.054" stroke-width="1.2"/>
<circle cx="5.0" cy="6.7" r="1.4" fill="#f0b8ff" fill-opacity="0.08"/>
<circle cx="-4.2" cy="11.7" r="0.7" fill="#f0b8ff" fill-opacity="0.08"/>
<circle cx="8.0" cy="3.2" r="1.3" fill="#f0b8ff" fill-opacity="0.08"/>
<circle cx="-4.8" cy="-12.7" r="1.0" fill="#f0b8ff" fill-opacity="0.08"/>
<circle cx="-11.2" cy="-1.2" r="1.1" fill="#f0b8ff" fill-opacity="0.08"/>
<circle cx="11.5" cy="10.6" r="0.9" fill="#f0b8ff" fill-opacity="0.08"/>
<circle cx="15.9" cy="-2.2" r="0.7" fill="#f0b8ff" fill-opacity="0.08"/>
<circle cx="-14.5" cy="3.8" r="1.6" fill="#f0b8ff" fill-opacity="0.08"/>
<circle cx="-8.1" cy="2.7" r="0.9" fill="#f0b8ff" fill-opacity="0.08"/>
<circle cx="7.2" cy="-2.5" r="1.2" fill="#f0b8ff" fill-opacity="0.08"/>
<circle cx="7.5" cy="9.3" r="1.6" fill="#f0b8ff" fill-opacity="0.08"/>
<circle cx="10.1" cy="11.1" r="1.2" fill="#f0b8ff" fill-opacity="0.08"/>
<circle cx="10.5" cy="-9.1" r="0.9" fill="#f0b8ff" fill-opacity="0.08"/>
<circle cx="9.2" cy="-6.9" r="0.7" fill="#f0b8ff" fill-opacity="0.08"/>
</g>
<circle cx="6" cy="6" r="9" fill="#d8408f" fill-opacity="0.18"/><circle cx="20" cy="3" r="4" fill="#e060b0" fill-opacity="0.14"/><circle cx="3" cy="24" r="5" fill="#d8408f" fill-opacity="0.12"/>
<circle cx="617" cy="153" r="9" fill="#e9b4ff" fill-opacity="0.07"/>
<rect width="675" height="151" fill="url(#bgv)"/>
</g>
</svg>
</div>

<div class="abs t1">中东多国新冠病例数高位增长</div>
<div class="abs t2">伊朗单日新增超<b>6000</b><i>例</i></div>

<div class="abs p" id="p1" style="left:241px;top:189.4px;">中东地区新冠疫情持续蔓延</div>
<div class="abs p" id="p2" style="left:96.5px;top:225.6px;">当地时间 10 月<span style="margin-left:-1px"> 25</span> 日 伊朗报告单日新增病例数超过 <b style="margin-left:-1.7px;position:relative;top:-0.7px">6000</b> <span style="font-size:23.5px;margin-left:0.8px;position:relative;top:-1px">例</span></div>
<div class="abs p" id="p3" style="left:85.5px;top:262.3px;">摩洛哥<span class="hl">、</span>伊拉克<span class="hl">、</span>约旦<span class="hl">、</span>土耳其等国当天新增病例也在 <b style="font-size:25.4px;letter-spacing:0.4px;position:relative;top:-1px">2000</b><span style="margin-left:0.6px"> 例以上</span></div>

<div class="abs row hd" style="top:313px;height:34.2px"><div class="c h1">国家</div><div class="c h2">新增确诊病例</div><div class="c h3">累计确诊病例</div><div class="c h4">累计死亡病例</div></div>
<div class="abs row dk" style="top:346.90px;--o:0.70px"><div class="c c1">伊朗</div><div class="c c2">6191例</div><div class="c c3">568896例</div><div class="c c4">32616例</div></div>
<div class="abs row lt" style="top:381.58px;--o:0.89px"><div class="c c1">摩洛哥</div><div class="c c2">3020例</div><div class="c c3">197481例</div><div class="c c4">3301例</div></div>
<div class="abs row dk" style="top:416.26px;--o:1.08px"><div class="c c1">伊拉克</div><div class="c c2">2544例</div><div class="c c3">451707例</div><div class="c c4">10623例</div></div>
<div class="abs row lt" style="top:450.94px;--o:1.27px"><div class="c c1">约旦</div><div class="c c2">2337例</div><div class="c c3">53087例</div><div class="c c4">579例</div></div>
<div class="abs row dk" style="top:485.62px;--o:1.46px"><div class="c c1">以色列</div><div class="c c2">533例</div><div class="c c3">309946例</div><div class="c c4">2397例</div></div>
<div class="abs row lt" style="top:520.30px;--o:1.65px"><div class="c c1">土耳其</div><div class="c c2">2017例</div><div class="c c3">361801例</div><div class="c c4">9799例</div></div>
<div class="abs row dk" style="top:554.98px;--o:1.84px"><div class="c c1">阿尔及利亚</div><div class="c c2">263例</div><div class="c c3">56143例</div><div class="c c4">1914例</div></div>

<div class="abs sub">累计确诊病例数</div>
<div class="abs subline"></div>
<div class="abs subtri"></div>

<div class="abs card" style="left:44.0px;top:653.3px"><div class="cn">沙特阿拉伯</div><div class="cv"><span class="n">344875</span>例</div></div>
<div class="abs card" style="left:171.2px;top:653.3px"><div class="cn">卡塔尔</div><div class="cv"><span class="n">131170</span>例</div></div>
<div class="abs card" style="left:298.3px;top:653.3px"><div class="cn">科威特</div><div class="cv"><span class="n">121635</span>例</div></div>
<div class="abs card" style="left:425.5px;top:653.3px"><div class="cn">阿曼</div><div class="cv"><span class="n">112932</span>例</div></div>
<div class="abs card" style="left:552.7px;top:653.3px"><div class="cn">阿联酋</div><div class="cv"><span class="n">125123</span>例</div></div>
<div class="abs card" style="left:44.0px;top:740.7px"><div class="cn">埃及</div><div class="cv"><span class="n">106540</span>例</div></div>
<div class="abs card" style="left:171.2px;top:740.7px"><div class="cn">巴勒斯坦</div><div class="cv"><span class="n">62046</span>例</div></div>
<div class="abs card" style="left:298.3px;top:740.7px"><div class="cn">利比亚</div><div class="cv"><span class="n">56013</span>例</div></div>
<div class="abs card" style="left:425.5px;top:740.7px"><div class="cn">巴林</div><div class="cv"><span class="n">80255</span>例</div></div>
<div class="abs card" style="left:552.7px;top:740.7px"><div class="cn">叙利亚</div><div class="cv"><span class="n">5408</span>例</div></div>

<svg class="abs botline" width="714" height="899" viewBox="0 0 714 899"><rect x="23" y="834.6" width="667.3" height="2.2" fill="#92278f"/></svg>

<div class="abs logo"><svg width="26" height="26" viewBox="0 0 26 26">
<defs>
<clipPath id="lc"><circle cx="13" cy="13" r="9.7"/></clipPath>
<radialGradient id="lg" cx="0.5" cy="0.62" r="0.62"><stop offset="0" stop-color="#3f8fd8"/><stop offset="0.55" stop-color="#1f69b6"/><stop offset="1" stop-color="#174f96"/></radialGradient>
</defs>
<circle cx="13" cy="13" r="11.4" fill="#2a5a98"/>
<circle cx="13" cy="13" r="10.5" fill="#8fc2ec"/>
<circle cx="13" cy="13" r="9.7" fill="url(#lg)"/>
<g clip-path="url(#lc)">
<path d="M2 26 L2 18.2 C6.2 17.8 8.8 16.6 9.9 13.8 L10.7 8.9 L12.5 8.5 L12.7 2 L13.3 2 L13.5 8.5 L15.3 8.9 L16.1 13.8 C17.2 16.6 19.8 17.8 24 18.2 L24 26 Z" fill="#f2f8fe"/>
<rect x="11.55" y="10.1" width="1" height="2" fill="#1b4f93"/>
<rect x="13.45" y="10.1" width="1" height="2" fill="#1b4f93"/>
<rect x="11.55" y="13.7" width="1" height="2.7" fill="#1b4f93"/>
<rect x="13.45" y="13.7" width="1" height="2.7" fill="#1b4f93"/>
<rect x="8.4" y="17.7" width="9.2" height="0.9" fill="#1b4f93"/>
<path d="M4.6 19.9 Q13 22.4 21.4 19.9 L20.9 20.8 Q13 23.3 5.1 20.8 Z" fill="#2d69b0"/>
<path d="M7 21.9 Q13 23.5 19 21.9 L18 22.8 Q13 24 8 22.8 Z" fill="#5b97d3"/>
</g>
</svg></div>
<div class="abs foot">新华社发<span style="margin-left:-3px;margin-right:2px">（</span>梁晨 制图）</div>

</body>
</html>
